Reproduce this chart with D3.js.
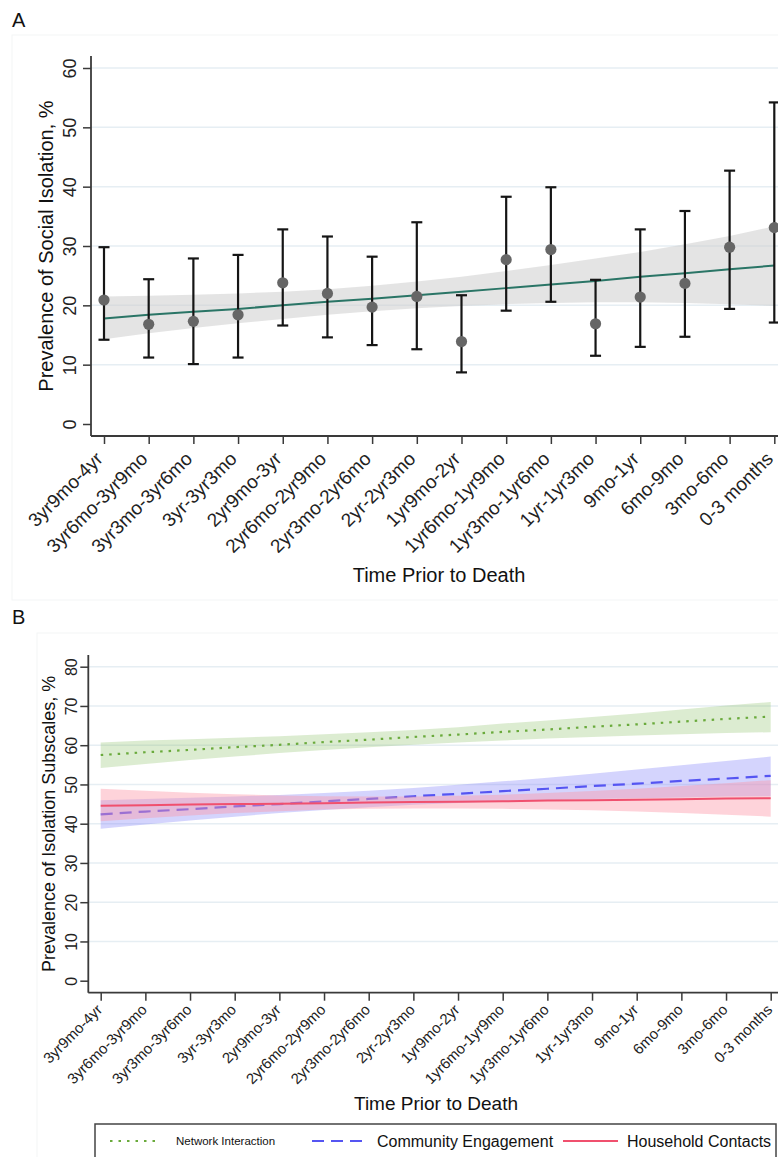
<!DOCTYPE html>
<html>
<head>
<meta charset="utf-8">
<script src="https://cdn.jsdelivr.net/npm/d3@7"></script>
<style>
  body { margin: 0; background: #fff; }
  svg { display: block; font-family: "Liberation Sans", Arial, sans-serif; }
</style>
</head>
<body>
<svg width="778" height="1157"></svg>
<script>
// Data
const periods = ['3yr9mo-4yr', '3yr6mo-3yr9mo', '3yr3mo-3yr6mo', '3yr-3yr3mo', '2yr9mo-3yr', '2yr6mo-2yr9mo',
    '2yr3mo-2yr6mo', '2yr-2yr3mo', '1yr9mo-2yr', '1yr6mo-1yr9mo', '1yr3mo-1yr6mo', '1yr-1yr3mo',
    '9mo-1yr', '6mo-9mo', '3mo-6mo', '0-3 months'];

// Panel A: observed prevalence with 95% CI
const prev_point = [20.9, 16.8, 17.3, 18.4, 23.8, 22.0, 19.7, 21.5, 13.9, 27.7, 29.4, 16.9, 21.4, 23.7, 29.8, 33.1];
const prev_lower = [14.2, 11.2, 10.1, 11.2, 16.6, 14.6, 13.3, 12.6, 8.7, 19.1, 20.6, 11.5, 13.0, 14.7, 19.4, 17.1];
const prev_upper = [29.8, 24.4, 27.9, 28.5, 32.8, 31.6, 28.2, 34.0, 21.7, 38.3, 39.9, 24.3, 32.8, 35.9, 42.7, 54.2];
// Panel A: fitted trend and band
const trend_fit = [17.8, 18.4, 18.9, 19.4, 20.0, 20.6, 21.1, 21.7, 22.3, 22.9, 23.5, 24.1, 24.8, 25.4, 26.1, 26.7];
const trend_lo = [14.3, 15.3, 16.2, 17.0, 17.7, 18.4, 19.0, 19.5, 19.9, 20.2, 20.4, 20.5, 20.5, 20.4, 20.2, 19.9];
const trend_hi = [21.5, 21.6, 21.8, 22.0, 22.3, 22.7, 23.3, 24.0, 24.8, 25.8, 26.8, 27.9, 29.0, 30.3, 31.7, 33.3];
const ticks_a = [0, 10, 20, 30, 40, 50, 60];

// Panel B: subscale trends
const network_fit = [57.5, 58.2, 58.8, 59.5, 60.1, 60.8, 61.4, 62.1, 62.7, 63.4, 64.0, 64.7, 65.3, 66.0, 66.7, 67.3];
const network_lo = [54.2, 55.2, 56.2, 57.1, 58.0, 58.8, 59.5, 60.1, 60.7, 61.2, 61.7, 62.1, 62.5, 62.8, 63.1, 63.3];
const network_hi = [60.7, 61.2, 61.5, 61.9, 62.3, 62.8, 63.3, 63.9, 64.6, 65.5, 66.3, 67.2, 68.1, 69.1, 70.1, 71.0];
const community_fit = [42.4, 43.1, 43.7, 44.4, 45.0, 45.7, 46.3, 47.0, 47.6, 48.3, 48.9, 49.6, 50.2, 50.9, 51.5, 52.2];
const community_lo = [38.7, 39.8, 40.8, 41.8, 42.7, 43.5, 44.2, 44.8, 45.3, 45.7, 46.0, 46.3, 46.5, 46.7, 46.9, 47.0];
const community_hi = [46.0, 46.3, 46.6, 46.9, 47.3, 47.8, 48.4, 49.1, 49.9, 50.8, 51.7, 52.7, 53.8, 54.9, 56.0, 57.1];
const household_fit = [44.6, 44.7, 44.9, 45.0, 45.1, 45.2, 45.4, 45.5, 45.6, 45.7, 45.9, 46.0, 46.1, 46.2, 46.4, 46.5];
const household_lo = [40.6, 41.4, 42.1, 42.7, 43.2, 43.6, 43.8, 43.9, 43.9, 43.8, 43.6, 43.4, 43.1, 42.7, 42.3, 41.8];
const household_hi = [48.9, 48.4, 47.9, 47.5, 47.2, 47.0, 46.9, 46.9, 47.1, 47.4, 47.8, 48.3, 48.9, 49.6, 50.3, 51.1];
const ticks_b = [0, 10, 20, 30, 40, 50, 60, 70, 80];

const series_b = [
    { label: 'Network Interaction', fit: network_fit, lo: network_lo, hi: network_hi,
      line: '#6aaa3c', band: 'rgba(130,185,90,0.28)', dash: '2.5,6', width: 2.2 },
    { label: 'Community Engagement', fit: community_fit, lo: community_lo, hi: community_hi,
      line: '#5555f2', band: 'rgba(120,120,250,0.32)', dash: '12,7', width: 2.2 },
    { label: 'Household Contacts', fit: household_fit, lo: household_lo, hi: household_hi,
      line: '#f0506e', band: 'rgba(252,150,168,0.42)', dash: null, width: 2 },
];

// Constants
const svg = d3.select('svg');
const width = +svg.attr('width');
const grid_color = '#e6eef3';
const axis_color = '#3a3a3a';

// faint outer frames of the graph regions
svg.append('rect').attr('x', 12).attr('y', 35).attr('width', 770).attr('height', 565)
    .attr('fill', 'none').attr('stroke', '#f3f5f6').attr('stroke-width', 1);
svg.append('rect').attr('x', 37).attr('y', 633).attr('width', 745).attr('height', 530)
    .attr('fill', 'none').attr('stroke', '#f3f5f6').attr('stroke-width', 1);

const panelLetter = (t, y) => svg.append('text')
    .attr('x', 12).attr('y', y)
    .attr('font-size', '20px').attr('fill', '#111')
    .text(t);
panelLetter('A', 27);
panelLetter('B', 624);

// Generic frame: axes, grid, labels
const drawFrame = (o) => {
    const g = svg.append('g');
    // grid
    g.selectAll('.grid').data(o.ticks.filter(d => d > 0)).enter().append('line')
        .attr('x1', o.axisX).attr('x2', width)
        .attr('y1', d => o.y(d)).attr('y2', d => o.y(d))
        .attr('stroke', grid_color).attr('stroke-width', 1.5);

    // y axis ticks + labels
    const ya = g.append('g')
        .attr('transform', `translate(${o.axisX},0)`)
        .call(d3.axisLeft(o.y).tickValues(o.ticks).tickSize(8).tickPadding(0));
    ya.select('.domain').remove();
    ya.selectAll('line').attr('stroke', axis_color).attr('stroke-width', 1.5);
    ya.selectAll('text')
        .attr('x', 0).attr('dy', 0).attr('y', -o.yLabelOffset)
        .attr('transform', 'rotate(-90)')
        .attr('text-anchor', 'middle')
        .attr('fill', '#222')
        .style('font-size', o.yTickSize + 'px')
        .style('font-family', 'inherit');

    // x axis ticks + labels
    const xa = g.append('g')
        .attr('transform', `translate(0,${o.axisY})`)
        .call(d3.axisBottom(o.x).tickSize(8).tickPadding(0));
    xa.select('.domain').remove();
    xa.selectAll('line').attr('stroke', axis_color).attr('stroke-width', 1.5);
    xa.selectAll('text')
        .attr('x', 0).attr('y', 0).attr('dy', 0)
        .attr('text-anchor', 'end')
        .attr('transform', `translate(${o.xLabelDx},${o.xLabelDy}) rotate(-45)`)
        .attr('fill', '#222')
        .style('font-size', o.xTickSize + 'px')
        .style('font-family', 'inherit');

    // axis lines
    g.append('line')
        .attr('x1', o.axisX).attr('x2', o.axisX)
        .attr('y1', o.axisTop).attr('y2', o.axisY)
        .attr('stroke', axis_color).attr('stroke-width', 1.8);
    g.append('line')
        .attr('x1', o.axisX).attr('x2', width)
        .attr('y1', o.axisY).attr('y2', o.axisY)
        .attr('stroke', axis_color).attr('stroke-width', 1.8);

    // titles
    g.append('text')
        .attr('transform', `translate(${o.yTitleX},${(o.axisTop + o.axisY) / 2}) rotate(-90)`)
        .attr('text-anchor', 'middle')
        .attr('font-size', o.yTitleSize + 'px')
        .attr('fill', '#111')
        .text(o.yTitle);
    g.append('text')
        .attr('x', o.xTitleX).attr('y', o.xTitleY)
        .attr('text-anchor', 'middle')
        .attr('font-size', o.xTitleSize + 'px')
        .attr('fill', '#111')
        .text('Time Prior to Death');
    return g;
};

// ---------- Panel A ----------
const xA = d3.scalePoint().domain(periods).range([104, 774.3]);
const yA = d3.scaleLinear().domain([0, 60]).range([424, 68]);

drawFrame({
    x: xA, y: yA, ticks: ticks_a, axisX: 91, axisY: 436, axisTop: 56,
    yLabelOffset: 15, yTickSize: 18, xTickSize: 19, xLabelDx: -0.5, xLabelDy: 24,
    yTitle: 'Prevalence of Social Isolation, %', yTitleX: 53, yTitleSize: 20,
    xTitleX: 439, xTitleY: 582, xTitleSize: 20
});

const plotA = svg.append('g');
const idx = d3.range(periods.length);

plotA.append('path')
    .datum(idx)
    .attr('fill', 'rgba(205,205,205,0.55)')
    .attr('d', d3.area()
        .x(i => xA(periods[i]))
        .y0(i => yA(trend_lo[i]))
        .y1(i => yA(trend_hi[i])));

plotA.append('path')
    .datum(idx)
    .attr('fill', 'none')
    .attr('stroke', '#2a7566')
    .attr('stroke-width', 2)
    .attr('d', d3.line()
        .x(i => xA(periods[i]))
        .y(i => yA(trend_fit[i])));

const cap = 5.5;
const bars = plotA.selectAll('.ebar').data(idx).enter().append('g').attr('class', 'ebar');
bars.append('line')
    .attr('x1', i => xA(periods[i])).attr('x2', i => xA(periods[i]))
    .attr('y1', i => yA(prev_lower[i])).attr('y2', i => yA(prev_upper[i]))
    .attr('stroke', '#151515').attr('stroke-width', 2.2);
bars.append('line')
    .attr('x1', i => xA(periods[i]) - cap).attr('x2', i => xA(periods[i]) + cap)
    .attr('y1', i => yA(prev_upper[i])).attr('y2', i => yA(prev_upper[i]))
    .attr('stroke', '#151515').attr('stroke-width', 2.2);
bars.append('line')
    .attr('x1', i => xA(periods[i]) - cap).attr('x2', i => xA(periods[i]) + cap)
    .attr('y1', i => yA(prev_lower[i])).attr('y2', i => yA(prev_lower[i]))
    .attr('stroke', '#151515').attr('stroke-width', 2.2);
bars.append('circle')
    .attr('cx', i => xA(periods[i]))
    .attr('cy', i => yA(prev_point[i]))
    .attr('r', 5.6)
    .attr('fill', '#666');

// ---------- Panel B ----------
const xB = d3.scalePoint().domain(periods).range([100.7, 770.7]);
const yB = d3.scaleLinear().domain([0, 80]).range([980.7, 666.7]);

drawFrame({
    x: xB, y: yB, ticks: ticks_b, axisX: 88.3, axisY: 992.7, axisTop: 655,
    yLabelOffset: 11, yTickSize: 16, xTickSize: 15, xLabelDx: 2, xLabelDy: 18,
    yTitle: 'Prevalence of Isolation Subscales, %', yTitleX: 55, yTitleSize: 18,
    xTitleX: 436, xTitleY: 1110, xTitleSize: 19
});

const plotB = svg.append('g');
series_b.forEach(s => {
    plotB.append('path')
        .datum(idx)
        .attr('fill', s.band)
        .attr('d', d3.area()
            .x(i => xB(periods[i]))
            .y0(i => yB(s.lo[i]))
            .y1(i => yB(s.hi[i])));
    plotB.append('path')
        .datum(idx)
        .attr('fill', 'none')
        .attr('stroke', s.line)
        .attr('stroke-width', s.width)
        .attr('stroke-dasharray', s.dash)
        .attr('d', d3.line()
            .x(i => xB(periods[i]))
            .y(i => yB(s.fit[i])));
});

// Legend
const legend = svg.append('g');
legend.append('rect')
    .attr('x', 95).attr('y', 1124).attr('width', 681).attr('height', 50)
    .attr('fill', '#fff').attr('stroke', '#444').attr('stroke-width', 1.5);
const legend_items = [
    { s: series_b[0], x1: 110, x2: 160, tx: 176, fs: 11.5 },
    { s: series_b[1], x1: 312, x2: 367, tx: 377, fs: 16 },
    { s: series_b[2], x1: 563, x2: 618, tx: 627, fs: 16 },
];
legend_items.forEach(d => {
    legend.append('line')
        .attr('x1', d.x1).attr('x2', d.x2)
        .attr('y1', 1141).attr('y2', 1141)
        .attr('stroke', d.s.line)
        .attr('stroke-width', d.s.width)
        .attr('stroke-dasharray', d.s.dash);
    legend.append('text')
        .attr('x', d.tx).attr('y', 1141)
        .attr('dy', '0.36em')
        .attr('font-size', d.fs + 'px')
        .attr('fill', '#111')
        .text(d.s.label);
});
</script>
</body>
</html>
